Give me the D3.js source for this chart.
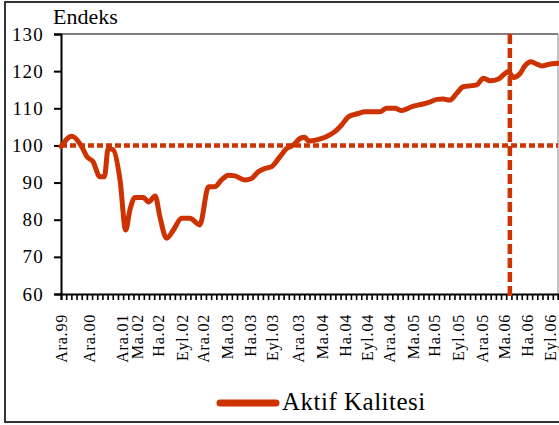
<!DOCTYPE html>
<html>
<head>
<meta charset="utf-8">
<script src="https://cdn.jsdelivr.net/npm/d3@7"></script>
<style>
  html, body { margin: 0; padding: 0; background: #fff; }
  svg { display: block; }
  svg text { font-family: "Liberation Serif", "Times New Roman", serif; }
</style>
</head>
<body>
<svg id="chart" width="559" height="425"></svg>
<script>
// ---- data ----
const yTickValues = [60, 70, 80, 90, 100, 110, 120, 130];
const xLabels = ["Ara.99","Ara.00","Ara.01","Ma.02","Ha.02","Eyl.02","Ara.02","Ma.03","Ha.03","Eyl.03","Ara.03","Ma.04","Ha.04","Eyl.04","Ara.04","Ma.05","Ha.05","Eyl.05","Ara.05","Ma.06","Ha.06","Eyl.06"];
const xLabelPos = [0, 5.4, 11.8, 14.7, 18.9, 23.4, 27.6, 32.1, 36.5, 40.8, 45.8, 50.4, 54.9, 59.1, 63.5, 68.0, 72.2, 76.7, 81.3, 85.6, 90.0, 94.5];
const periodCount = 96;
const seriesIndex = [0,2.1,4.0,5.0,6.2,7.5,8.4,9.1,10.1,11.4,12.5,13.3,14.3,15.9,16.9,18.2,19.1,20.4,21.7,23.3,24.9,26.8,28.5,29.7,31.0,32.3,33.6,35.5,36.8,38.1,39.4,40.7,42.3,43.6,44.9,46.2,47.1,47.8,49.4,51.0,52.9,54.2,55.5,57.4,58.7,61.6,62.9,64.5,65.8,67.7,69.7,70.9,72.6,73.8,75.1,76.4,77.7,79.3,80.3,81.6,82.9,84.5,85.8,86.4,87.4,88.7,89.6,90.8,91.9,92.9,94.1,96];
const seriesValues = [99.7,102.5,99.7,97,95.6,91.6,91.6,99.2,98.8,90.7,77.2,82.6,86,86,84.8,86.4,80.8,75,77.2,80.4,80.4,78.6,88.9,88.9,90.7,92,91.8,90.7,91.1,92.9,93.8,94.3,97,99.2,100.1,101.9,102.2,101.2,101.5,102.2,103.7,105.5,107.7,108.6,109.1,109.1,110,110,109.4,110.4,111.1,111.5,112.4,112.5,112.2,114,115.8,116.1,116.3,118.1,117.4,117.9,119.4,119.9,118.3,119.4,121.4,122.5,121.9,121.4,121.8,122.1];
const refLevel = 100;
const refPeriod = 86.7;
const seriesName = "Aktif Kalitesi";
const yTitle = "Endeks";

// ---- layout ----
const svg = d3.select("#chart");
const W = 559, H = 425;
const plot = { left: 61, right: 558, top: 34, bottom: 294 };
const color = "#cc3300";
const serif = '"Liberation Serif", "Times New Roman", serif';

const x = d3.scaleLinear().domain([0, periodCount]).range([plot.left, plot.right]);
const y = d3.scaleLinear().domain([60, 130]).range([plot.bottom, plot.top]);

// outer frame
svg.append("rect").attr("x", 5).attr("y", 2).attr("width", W + 10).attr("height", 420)
  .attr("fill", "none").attr("stroke", "#333").attr("stroke-width", 2);

// plot frame (top/right grey)
svg.append("line").attr("x1", plot.left).attr("x2", plot.right).attr("y1", plot.top).attr("y2", plot.top)
  .attr("stroke", "#555").attr("stroke-width", 1.5);
svg.append("line").attr("x1", plot.right).attr("x2", plot.right).attr("y1", plot.top).attr("y2", plot.bottom)
  .attr("stroke", "#888").attr("stroke-width", 1);

// y axis
const yAxis = d3.axisLeft(y).tickValues(yTickValues).tickSize(7).tickPadding(10).tickFormat(d3.format("d"));
const gy = svg.append("g").attr("transform", `translate(${plot.left},0)`).call(yAxis);
gy.attr("font-family", null);
gy.select(".domain").attr("stroke", "#000").attr("stroke-width", 2);
gy.selectAll(".tick line").attr("stroke", "#000").attr("stroke-width", 2);
gy.selectAll(".tick text").style("font-family", serif).attr("font-size", 19).attr("fill", "#000")
  .attr("letter-spacing", 1.2);

// x axis minor ticks (every period)
const xTickAxis = d3.axisBottom(x).tickValues(d3.range(0, periodCount + 1)).tickSize(6).tickFormat("");
const gx = svg.append("g").attr("transform", `translate(0,${plot.bottom})`).call(xTickAxis);
gx.select(".domain").attr("stroke", "#000").attr("stroke-width", 2);
gx.selectAll(".tick line").attr("stroke", "#000").attr("stroke-width", 1.6);

// x labels (rotated)
svg.append("g").selectAll("text").data(xLabels).join("text")
  .attr("transform", (d, i) => `translate(${x(xLabelPos[i])},${plot.bottom + 20}) rotate(-90)`)
  .attr("text-anchor", "end").attr("dy", "0.35em")
  .style("font-family", serif).attr("font-size", 16).attr("fill", "#000")
  .attr("letter-spacing", 0.8)
  .text(d => d);

// y title
svg.append("text").attr("x", 53).attr("y", 24).style("font-family", serif).attr("font-size", 22)
  .attr("fill", "#000").text(yTitle);

// reference lines
svg.append("line").attr("x1", plot.left).attr("x2", plot.right).attr("y1", y(refLevel)).attr("y2", y(refLevel))
  .attr("stroke", color).attr("stroke-width", 4.5).attr("stroke-dasharray", "6,3");
svg.append("line").attr("x1", x(refPeriod)).attr("x2", x(refPeriod)).attr("y1", plot.top).attr("y2", plot.bottom + 4)
  .attr("stroke", color).attr("stroke-width", 4.5).attr("stroke-dasharray", "10,4");

// series line
const pts = seriesIndex.map((d, i) => [d, seriesValues[i]]);
const line = d3.line().x(d => x(d[0])).y(d => y(d[1])).curve(d3.curveMonotoneX);
svg.append("path").datum(pts).attr("d", line).attr("fill", "none").attr("stroke", color)
  .attr("stroke-width", 5).attr("stroke-linejoin", "round").attr("stroke-linecap", "round");

// legend
svg.append("line").attr("x1", 220).attr("x2", 276).attr("y1", 403).attr("y2", 403)
  .attr("stroke", color).attr("stroke-width", 7).attr("stroke-linecap", "round");
svg.append("text").attr("x", 282).attr("y", 410).style("font-family", serif).attr("font-size", 25)
  .attr("letter-spacing", 0.5).attr("fill", "#000").text(seriesName);
</script>
</body>
</html>
